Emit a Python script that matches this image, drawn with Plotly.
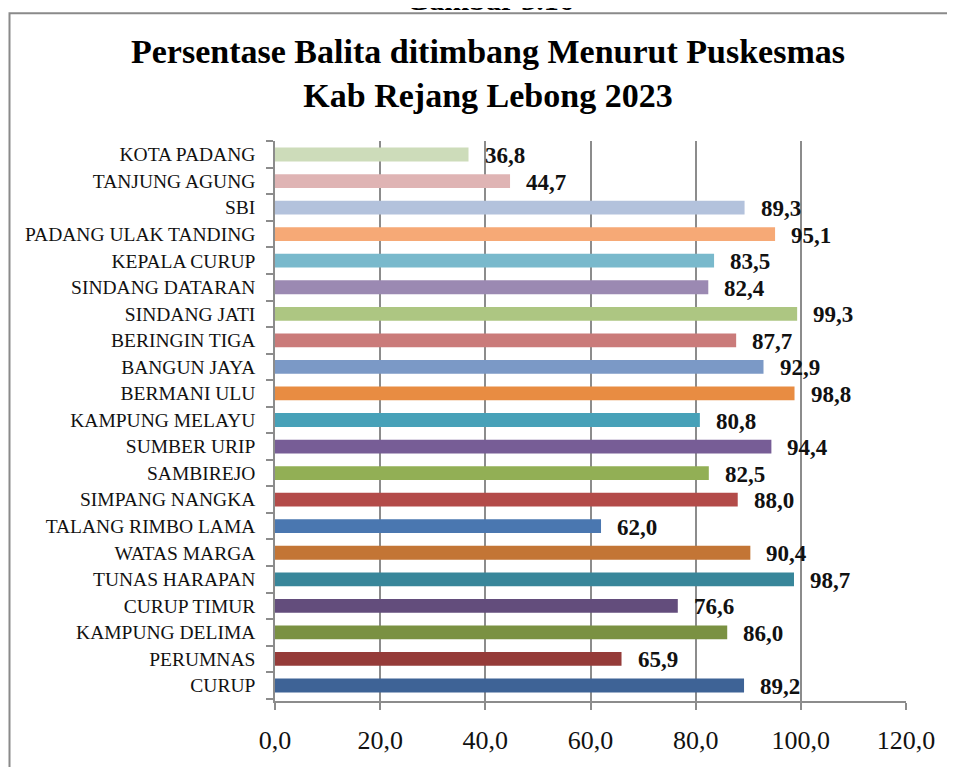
import plotly.graph_objects as go

puskesmas = [
    "CURUP", "PERUMNAS", "KAMPUNG DELIMA", "CURUP TIMUR", "TUNAS HARAPAN",
    "WATAS MARGA", "TALANG RIMBO LAMA", "SIMPANG NANGKA", "SAMBIREJO",
    "SUMBER URIP", "KAMPUNG MELAYU", "BERMANI ULU", "BANGUN JAYA",
    "BERINGIN TIGA", "SINDANG JATI", "SINDANG DATARAN", "KEPALA CURUP",
    "PADANG ULAK TANDING", "SBI", "TANJUNG AGUNG", "KOTA PADANG",
]
persen = [
    89.2, 65.9, 86.0, 76.6, 98.7,
    90.4, 62.0, 88.0, 82.5,
    94.4, 80.8, 98.8, 92.9,
    87.7, 99.3, 82.4, 83.5,
    95.1, 89.3, 44.7, 36.8,
]
warna = [
    "#3e6396", "#953b39", "#7a9142", "#634d7c", "#38869a",
    "#c37535", "#4a77b0", "#b34b49", "#92af55",
    "#775d96", "#47a1b8", "#e88c42", "#7b99c6",
    "#ca7b7a", "#adc682", "#9b89b2", "#79b9cc",
    "#f6a976", "#b3c2dc", "#dfb4b4", "#cddcba",
]
x_ticks = [0, 20, 40, 60, 80, 100, 120]

# the page puts the figure 8px in from the top-left corner,
# so every screen position below is taken back by that much
OFF = 8
W, H = 955 - OFF, 767 - OFF
L, R, T, B = 275 - OFF, 906 - OFF, 141 - OFF, 707 - OFF  # plot area


def px_x(p):
    return (p - OFF - L) / (R - L)


def px_y(p):
    return (B - (p - OFF)) / (B - T)


serif = "Liberation Serif"
grey = "#8c8c8c"

fig = go.Figure()
fig.add_trace(go.Bar(
    y=puskesmas,
    x=persen,
    orientation="h",
    marker=dict(color=warna, line=dict(width=0)),
    hoverinfo="x+y",
    showlegend=False,
))

# data labels, set off to the right of each bar
for nama, nilai in zip(puskesmas, persen):
    fig.add_annotation(
        x=nilai, y=nama,
        text="<b>" + f"{nilai:.1f}".replace(".", ",") + "</b>",
        showarrow=False,
        xanchor="left", yanchor="middle",
        xshift=14, yshift=-1,
        font=dict(family=serif, size=23, color="#111111"),
    )

fig.add_annotation(
    x=px_x(488), y=px_y(73), xref="paper", yref="paper",
    text="<b>Persentase Balita ditimbang Menurut Puskesmas<br>Kab Rejang Lebong 2023</b>",
    showarrow=False, xanchor="center", yanchor="middle",
    font=dict(family=serif, size=34, color="#000000"),
)
# caption above the chart, only its lower edge shows at the top
fig.add_annotation(
    x=px_x(490), y=px_y(17), xref="paper", yref="paper",
    text="<b>Gambar 3.16</b>",
    showarrow=False, xanchor="center", yanchor="bottom",
    font=dict(family=serif, size=30, color="#000000"),
)

# outer chart border (runs off the right and bottom of the picture)
fig.add_shape(
    type="rect", xref="paper", yref="paper",
    x0=px_x(OFF + 1.5), y0=px_y(800), x1=px_x(1000), y1=px_y(12),
    line=dict(color="#8a8a8a", width=2), layer="below",
)

fig.update_layout(
    width=W, height=H,
    margin=dict(l=L, r=W - R, t=T, b=H - B),
    paper_bgcolor="white", plot_bgcolor="white",
    separators=",.",
    bargap=0.48,
    font=dict(family=serif, color="#111111"),
)
fig.update_xaxes(
    range=[0, 120], tickvals=x_ticks, tickformat=".1f",
    showgrid=True, gridcolor=grey, gridwidth=1.5,
    showline=True, linecolor=grey, linewidth=1.5,
    ticks="outside", ticklen=7, tickcolor=grey, tickwidth=1.5,
    tickfont=dict(family=serif, size=26, color="#111111"),
    ticklabelstandoff=8, zeroline=False,
)
fig.update_yaxes(
    categoryorder="array", categoryarray=puskesmas,
    showgrid=False,
    showline=True, linecolor=grey, linewidth=1.5,
    ticks="outside", ticklen=7, tickcolor=grey, tickwidth=1.5,
    tickson="boundaries",
    tickfont=dict(family=serif, size=19.5, color="#111111"),
    ticklabelstandoff=14,
)

fig.write_html("out.html")
